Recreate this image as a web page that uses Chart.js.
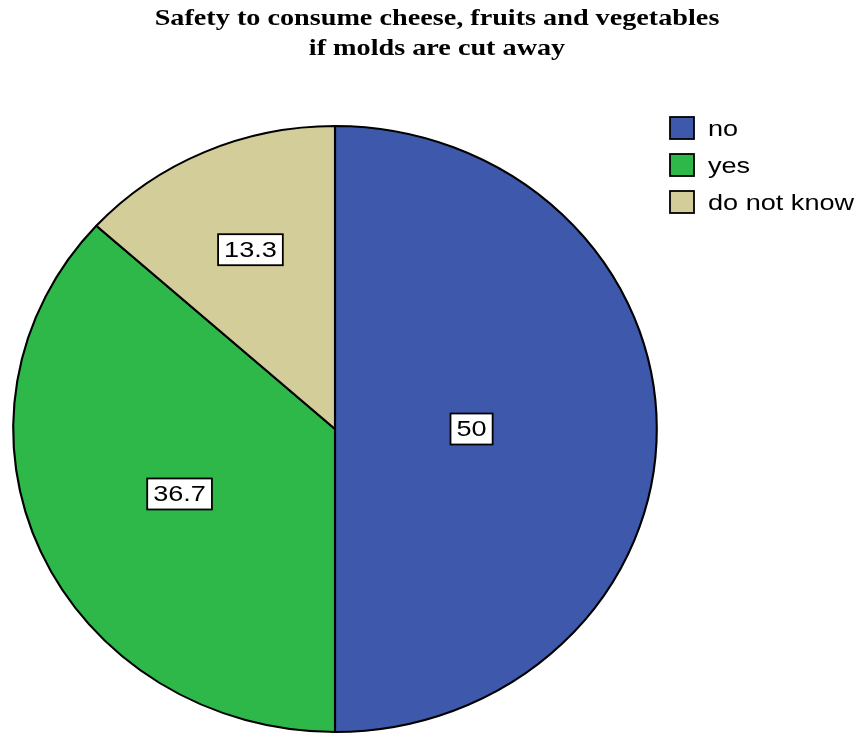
<!DOCTYPE html>
<html>
<head>
<meta charset="utf-8">
<title>Safety to consume cheese, fruits and vegetables</title>
<script src="https://cdn.jsdelivr.net/npm/chart.js@4.4.0/dist/chart.umd.min.js"></script>
<style>
    html, body { margin: 0; padding: 0; background: #fff; }
    #wrap { width: 861px; height: 734px; }
</style>
</head>
<body>
<div id="wrap"><canvas id="moldChart" width="861" height="734"></canvas></div>
<script>
// Survey answers (percent of respondents)
const categories = ['no', 'yes', 'do not know'];
const percentValues = [50, 36.7, 13.3];
const sliceColors = ['#3e59ab', '#2fb84a', '#d3ce99'];
const titleLines = ['Safety to consume cheese, fruits and vegetables', 'if molds are cut away'];

// The pie is drawn a little wider than tall, and text is set wide
const ELLIPSE_SX = 1.062;
const TEXT_SX = 1.26;
const TITLE_SX = 1.2;

// Stretch the pie horizontally around its centre
const ellipsePlugin = {
    id: 'ellipse',
    beforeDatasetsDraw(chart) {
        const ctx = chart.ctx;
        const arc = chart.getDatasetMeta(0).data[0];
        if (!arc) return;
        ctx.save();
        ctx.translate(arc.x, 0);
        ctx.scale(ELLIPSE_SX, 1);
        ctx.translate(-arc.x, 0);
    },
    afterDatasetsDraw(chart) {
        chart.ctx.restore();
    }
};

// Value boxes placed on the centroid of each slice
const valueBoxPlugin = {
    id: 'valueBoxes',
    afterDraw(chart) {
        const ctx = chart.ctx;
        const meta = chart.getDatasetMeta(0);
        ctx.save();
        ctx.font = '21.5px "Liberation Sans", Arial, sans-serif';
        ctx.textAlign = 'center';
        ctx.textBaseline = 'middle';
        meta.data.forEach(function(arc, i) {
            const p = arc.getProps(['x', 'y', 'startAngle', 'endAngle', 'outerRadius'], true);
            const half = (p.endAngle - p.startAngle) / 2;
            const mid = p.startAngle + half;
            const dist = p.outerRadius * 2 * Math.sin(half) / (3 * half);
            const px = p.x + Math.cos(mid) * dist * ELLIPSE_SX;
            const py = p.y + Math.sin(mid) * dist;
            const text = String(percentValues[i]);
            const w = ctx.measureText(text).width * TEXT_SX + 12;
            const h = 31;
            ctx.fillStyle = '#ffffff';
            ctx.fillRect(px - w / 2, py - h / 2, w, h);
            ctx.lineWidth = 1.8;
            ctx.strokeStyle = '#000000';
            ctx.strokeRect(px - w / 2, py - h / 2, w, h);
            ctx.save();
            ctx.translate(px, py + 1);
            ctx.scale(TEXT_SX, 1);
            ctx.fillStyle = '#000000';
            ctx.fillText(text, 0, 0);
            ctx.restore();
        });
        ctx.restore();
    }
};

// Two-line serif title and square legend on the right
const decorPlugin = {
    id: 'decor',
    afterDraw(chart) {
        const ctx = chart.ctx;
        ctx.save();
        ctx.fillStyle = '#000000';
        ctx.textAlign = 'center';
        ctx.textBaseline = 'alphabetic';
        ctx.font = 'bold 23.5px "Liberation Serif", "Times New Roman", serif';
        titleLines.forEach(function(line, i) {
            ctx.save();
            ctx.translate(437, 25 + i * 30);
            ctx.scale(TITLE_SX, 1);
            ctx.fillText(line, 0, 0);
            ctx.restore();
        });

        ctx.font = '21.5px "Liberation Sans", Arial, sans-serif';
        ctx.textAlign = 'left';
        ctx.textBaseline = 'middle';
        categories.forEach(function(label, i) {
            const y = 117 + i * 37;
            ctx.fillStyle = sliceColors[i];
            ctx.fillRect(670, y, 24, 22);
            ctx.lineWidth = 1.8;
            ctx.strokeStyle = '#000000';
            ctx.strokeRect(670, y, 24, 22);
            ctx.save();
            ctx.translate(708, y + 13);
            ctx.scale(TEXT_SX, 1);
            ctx.fillStyle = '#000000';
            ctx.fillText(label, 0, 0);
            ctx.restore();
        });
        ctx.restore();
    }
};

new Chart(document.getElementById('moldChart'), {
    type: 'pie',
    data: {
        labels: categories,
        datasets: [{
            data: percentValues,
            backgroundColor: sliceColors,
            borderColor: '#000000',
            borderWidth: 2,
            clip: false
        }]
    },
    options: {
        responsive: false,
        animation: false,
        devicePixelRatio: 1,
        layout: {
            padding: { left: 31, right: 222, top: 124, bottom: 0 }
        },
        plugins: {
            legend: { display: false },
            title: { display: false },
            tooltip: { enabled: false }
        }
    },
    plugins: [ellipsePlugin, valueBoxPlugin, decorPlugin]
});
</script>
</body>
</html>
